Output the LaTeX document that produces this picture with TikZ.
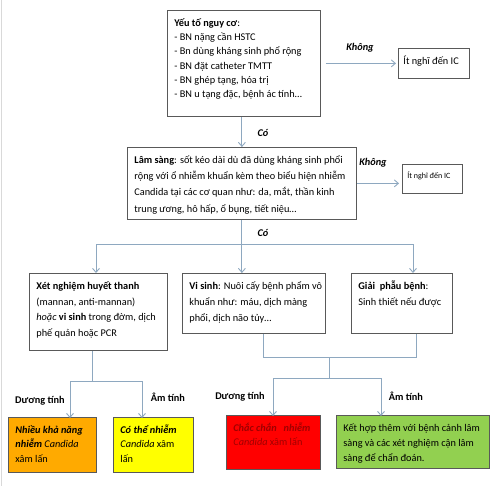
\documentclass[tikz,border=0pt]{standalone}
\usepackage{fontspec}
\setmainfont{Carlito}
\usetikzlibrary{arrows.meta}
\definecolor{connc}{HTML}{8EA8C0}
\definecolor{bordc}{HTML}{595959}
\definecolor{orangec}{HTML}{FFAA00}
\definecolor{yellowc}{HTML}{FFFF00}
\definecolor{redc}{HTML}{FF0000}
\definecolor{greenc}{HTML}{92D050}
\definecolor{darkred}{HTML}{A00000}
\newcommand{\bx}[4]{\parbox[c][#2][t]{#1}{\fontsize{10.3}{#3}\selectfont\leftskip=7pt\rightskip=2pt plus 1fil\relax\rule{0pt}{16pt}#4\par}}
\newcommand{\bxs}[5]{\parbox[c][#2][t]{#1}{\fontsize{#3}{14pt}\selectfont\leftskip=5pt\rightskip=0pt plus 1fil\relax\rule{0pt}{#4}\mbox{#5}\par}}
\begin{document}
\begin{tikzpicture}[x=1pt,y=-1pt,
  box/.style={draw=bordc, line width=0.8pt, inner sep=0pt, anchor=north west},
  conn/.style={draw=connc, line width=0.9pt},
  arr/.style={conn, -{Straight Barb[length=4pt,width=7pt]}},
  lab/.style={font=\fontsize{10.3}{12}\selectfont\bfseries, inner sep=0pt},
  labi/.style={font=\fontsize{10.3}{12}\selectfont\bfseries\itshape, inner sep=0pt}]
\useasboundingbox (0,0) rectangle (500,486);
\fill[white] (0,0) rectangle (500,486);
\draw[gray!30, line width=0.8pt] (1.5,0) -- (1.5,486);

% boxes
\node[box] (b1) at (167,10) {\bx{153pt}{106pt}{14.3pt}{\textbf{Yếu tố nguy cơ}:\\ \ - BN nặng cần HSTC\\ - Bn dùng kháng sinh phổ rộng\\ - BN đặt catheter TMTT\\ - BN ghép tạng, hóa trị\\ - BN u tạng đặc, bệnh ác tính…}};
\node[box] (ic1) at (398,48) {\bxs{71pt}{30pt}{10.3}{16pt}{Ít nghĩ đến IC}};
\node[box] (b2) at (127,147) {\bx{229pt}{72pt}{16.3pt}{\textbf{Lâm sàng}: sốt kéo dài dù đã dùng kháng sinh phổi\\ rộng với ổ nhiễm khuẩn kèm theo biểu hiện nhiễm\\ Candida tại các cơ quan như: da, mắt, thần kinh\\ trung ương, hô hấp, ổ bụng, tiết niệu…}};
\node[box] (ic2) at (402,164) {\bxs{60pt}{29pt}{8}{14pt}{Ít nghĩ đến IC}};
\node[box] (b3) at (29,273) {\bx{138pt}{77pt}{15.7pt}{\textbf{Xét nghiệm huyết thanh}\\ (mannan, anti-mannan)\\ \ \textit{hoặc} \textbf{vi sinh} trong đờm, dịch\\ phế quản hoặc PCR}};
\node[box] (b4) at (182,273) {\bx{143pt}{60pt}{16pt}{\textbf{Vi sinh}: Nuôi cấy bệnh phẩm vô\\ khuẩn như: máu, dịch màng\\ phổi, dịch não tủy…}};
\node[box] (b5) at (351,273) {\bx{101pt}{60pt}{16pt}{\textbf{Giải\ \ phẫu bệnh}:\\ Sinh thiết nếu được}};
\node[box, fill=orangec] (o1) at (8,417) {\bx{88pt}{55pt}{14.5pt}{\textbf{\textit{Nhiều khả năng}}\\ \textbf{\textit{nhiễm}} \textit{Candida}\\ xâm lấn}};
\node[box, fill=yellowc] (y1) at (113,417) {\bx{80pt}{55pt}{14.5pt}{\textbf{\textit{Có thể nhiễm}}\\ \textit{Candida} xâm\\ lấn}};
\node[box, fill=redc] (r1) at (226,415) {\bx{94pt}{54pt}{14.5pt}{\color{darkred}\textbf{\textit{Chắc chắn\ \ \ nhiễm}}\\ \textit{Candida} xâm lấn}};
\node[box, fill=greenc] (g1) at (336,415) {\bx{153pt}{53pt}{15pt}{Kết hợp thêm với bệnh cảnh lâm\\ sàng và các xét nghiệm cận lâm\\ sàng để chẩn đoán.}};

% labels
\node[labi] (k1) at (360,48) {Không};
\node[labi] (k2) at (373,163) {Không};
\node[labi] (c1) at (263,133) {Có};
\node[labi] (c2) at (263,233) {Có};
\node[lab] (d1) at (40,401) {Dương tính};
\node[lab] (a1) at (168,397) {Âm tính};
\node[lab] (d2) at (240,397) {Dương tính};
\node[lab] (a2) at (406,396) {Âm tính};

% junction coordinates
\coordinate (hL) at (96,244);
\coordinate (hR) at (413,244);
\coordinate (j1) at (92,381);
\coordinate (j1L) at (70,381);
\coordinate (j1R) at (142,381);
\coordinate (j2a) at (263,357);
\coordinate (j2b) at (416,357);
\coordinate (j2c) at (329,357);
\coordinate (j3) at (329,378);
\coordinate (j3L) at (273,378);
\coordinate (j3R) at (381,378);

% connectors
\draw[arr] (b2.north |- b1.south) -- (b2.north);
\draw[arr, shorten <=5pt, shorten >=2pt] (b1.east |- ic1.west) -- (ic1.west);
\draw[arr, shorten >=3pt] (b2.east) -- (b2.east -| ic2.west);
\draw[arr] (b2.south) -- (b2.south |- b4.north);
\draw[conn] (hL) -- (hR);
\draw[arr] (hL) -- (hL |- b3.north);
\draw[arr] (hR) -- (hR |- b5.north);
\draw[conn] (b3.south -| j1) -- (j1);
\draw[conn] (j1L) -- (j1R);
\draw[arr] (j1L) -- ([yshift=-1pt]j1L |- o1.north);
\draw[arr] (j1R) -- ([yshift=-1pt]j1R |- y1.north);
\draw[conn] (b4.south -| j2a) -- (j2a) -- (j2b) -- (b5.south -| j2b);
\draw[conn] (j2c) -- (j3);
\draw[conn] (j3L) -- (j3R);
\draw[arr] (j3L) -- ([yshift=-1pt]j3L |- r1.north);
\draw[arr] (j3R) -- ([yshift=-1pt]j3R |- g1.north);
\end{tikzpicture}
\end{document}
